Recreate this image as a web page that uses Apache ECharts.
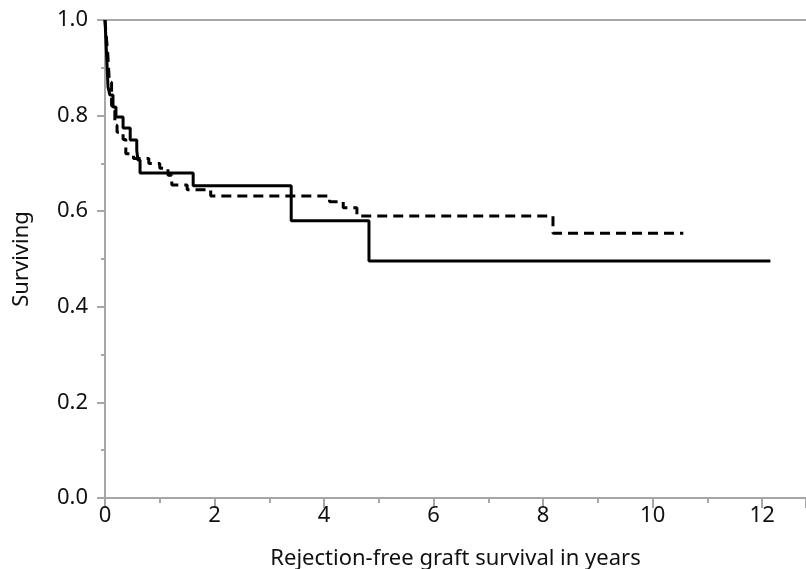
<!DOCTYPE html>
<html>
<head>
<meta charset="utf-8">
<script src="https://cdn.jsdelivr.net/npm/echarts@6/dist/echarts.min.js"></script>
<style>
  html, body { margin: 0; padding: 0; background: #fff; }
  #chart { width: 806px; height: 569px; }
</style>
</head>
<body>
<div id="chart"></div>
<script>
// Kaplan-Meier steps, [years, surviving]
var solidYears = [0, 0.02, 0.04, 0.055, 0.09, 0.146, 0.2, 0.33, 0.46, 0.58, 0.6, 0.64, 1.61, 3.40, 4.82, 12.15];
var solidSurv  = [1.0, 0.95, 0.90, 0.86, 0.843, 0.818, 0.797, 0.774, 0.749, 0.728, 0.707, 0.68, 0.653, 0.58, 0.496, 0.496];

var dashYears = [0, 0.02, 0.05, 0.08, 0.12, 0.18, 0.22, 0.33, 0.38, 0.52, 0.8, 1.0, 1.15, 1.22, 1.5, 1.93, 4.1, 4.35, 4.6, 8.18, 10.56];
var dashSurv  = [1.0, 0.97, 0.93, 0.87, 0.82, 0.78, 0.765, 0.75, 0.72, 0.71, 0.70, 0.69, 0.675, 0.655, 0.645, 0.632, 0.62, 0.607, 0.59, 0.554, 0.554];

var xTitle = 'Rejection-free graft survival in years';
var yTitle = 'Surviving';

function pairs(xs, ys) {
    return xs.map(function (x, i) { return [x, ys[i]]; });
}

var font = '"Noto Sans", "Open Sans", sans-serif';
var axisGray = '#a6a6a6';

var myChart = echarts.init(document.getElementById('chart'));
var option = {
    animation: false,
    grid: { left: 105, right: 0, top: 20, bottom: 71, containLabel: false, outerBoundsMode: 'none' },
    xAxis: [{
        type: 'value',
        min: 0,
        max: 12.8,
        interval: 2,
        name: xTitle,
        nameLocation: 'middle',
        nameGap: 50,
        nameTextStyle: { fontFamily: font, fontSize: 22, color: '#111' },
        axisLine: { lineStyle: { color: axisGray, width: 2 } },
        axisTick: { length: 10, lineStyle: { color: axisGray, width: 2 } },
        minorTick: { show: true, splitNumber: 2, length: 5, lineStyle: { color: axisGray, width: 2 } },
        axisLabel: { fontFamily: font, fontSize: 22, color: '#111', margin: 7,
            formatter: function (v) { return v > 12 ? '' : v; } },
        splitLine: { show: false }
    }, {
        type: 'value',
        position: 'top',
        min: 0,
        max: 12.8,
        axisLine: { onZero: false, lineStyle: { color: axisGray, width: 2 } },
        axisTick: { show: false },
        axisLabel: { show: false },
        splitLine: { show: false }
    }],
    yAxis: {
        type: 'value',
        min: 0,
        max: 1,
        interval: 0.2,
        name: yTitle,
        nameLocation: 'middle',
        nameGap: 72,
        nameTextStyle: { fontFamily: font, fontSize: 22, color: '#111' },
        axisLine: { show: true, lineStyle: { color: axisGray, width: 2 } },
        axisTick: { show: true, length: 8, lineStyle: { color: axisGray, width: 2 } },
        minorTick: { show: true, splitNumber: 2, length: 4, lineStyle: { color: axisGray, width: 2 } },
        axisLabel: { fontFamily: font, fontSize: 22, color: '#111', margin: 17,
            formatter: function (v) { return v.toFixed(1); } },
        splitLine: { show: false }
    },
    series: [{
        type: 'line',
        step: 'end',
        showSymbol: false,
        data: pairs(dashYears, dashSurv),
        lineStyle: { color: '#000', width: 3, type: [10, 6] }
    }, {
        type: 'line',
        step: 'end',
        showSymbol: false,
        data: pairs(solidYears, solidSurv),
        lineStyle: { color: '#000', width: 3 }
    }]
};
myChart.setOption(option);
</script>
</body>
</html>
